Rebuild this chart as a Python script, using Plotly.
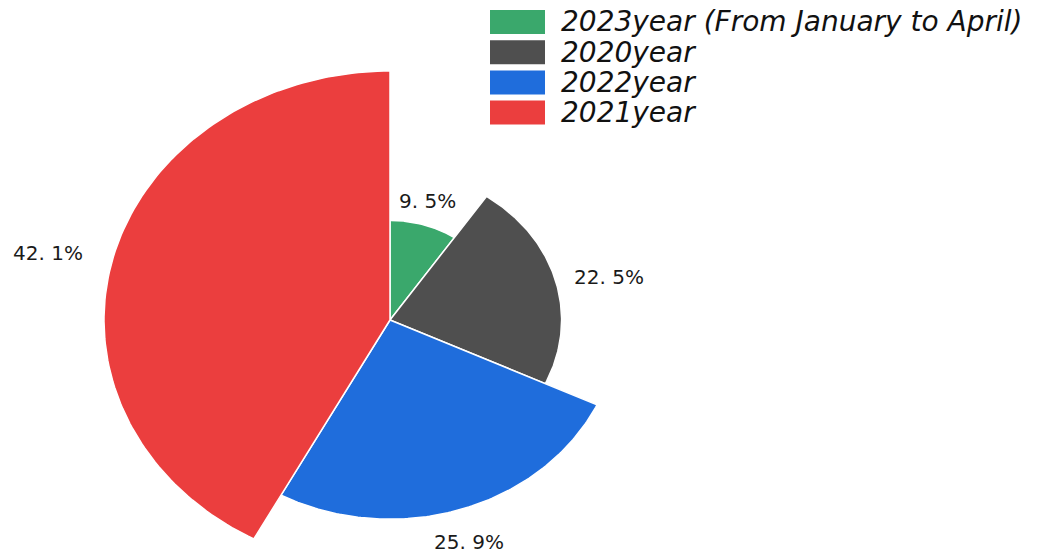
import numpy as np
import plotly.graph_objects as go

# Share of sales by year (percent) and relative rose radius of each slice
categories = ["2023year (From January to April)", "2020year", "2022year", "2021year"]
shares = [9.5, 22.5, 25.9, 42.1]
radius = [0.4, 0.6, 0.8, 1.0]
labels = ["9. 5%", "22. 5%", "25. 9%", "42. 1%"]
colors = ["#3aa86c", "#4f4f4f", "#1f6ddc", "#eb3e3e"]

W, H = 1043, 556
cx, cy = 390, 320          # pie centre in pixels
px_x, px_y = 286, 249      # pixels per unit radius horizontally / vertically

fig = go.Figure()

total = sum(shares)
start = 0.0
mids = []
for name, s, r, c in zip(categories, shares, radius, colors):
    span = 360.0 * s / total
    ang = np.radians(np.linspace(start, start + span, 120))
    xs = np.concatenate([[0], r * np.sin(ang), [0]])
    ys = np.concatenate([[0], r * np.cos(ang), [0]])
    fig.add_trace(go.Scatter(
        x=xs, y=ys, mode="lines", fill="toself", fillcolor=c,
        line=dict(color="white", width=1.5), name=name,
        hoverinfo="name", showlegend=False,
    ))
    mids.append(start + span / 2)
    start += span

# outside value labels, anchored just beyond each slice's rim
for lab, r, m in zip(labels, radius, mids):
    a = np.radians(m)
    sx, cy_ = np.sin(a), np.cos(a)
    rr = r * 1.1
    if sx > 0.45:
        xa, ya = "left", "middle"
    elif sx < -0.45:
        xa, ya = "right", "middle"
    else:
        xa, ya = "center", ("bottom" if cy_ > 0 else "top")
    fig.add_annotation(
        x=rr * sx, y=rr * cy_, text=lab, showarrow=False,
        xanchor=xa, yanchor=ya,
        font=dict(family="DejaVu Sans", size=20, color="#1a1a1a"),
    )

# legend: colour boxes with italic names
box_x0, box_x1 = 490, 545
row0, step, box_h = 10, 30.2, 24
shapes = []
for i, (name, c) in enumerate(zip(categories, colors)):
    y0 = row0 + i * step
    shapes.append(dict(
        type="rect", xref="paper", yref="paper",
        x0=box_x0 / W, x1=box_x1 / W,
        y0=1 - (y0 + box_h) / H, y1=1 - y0 / H,
        fillcolor=c, line=dict(width=0),
    ))
    fig.add_annotation(
        xref="paper", yref="paper", x=559 / W, y=1 - (y0 + box_h / 2) / H,
        text="<i>%s</i>" % name, showarrow=False, xanchor="left", yanchor="middle",
        font=dict(family="DejaVu Sans", size=28, color="#111111"),
    )

fig.update_layout(
    width=W, height=H, margin=dict(l=0, r=0, t=0, b=0),
    paper_bgcolor="white", plot_bgcolor="white",
    shapes=shapes, showlegend=False,
    xaxis=dict(range=[-cx / px_x, (W - cx) / px_x], visible=False, fixedrange=True),
    yaxis=dict(range=[-(H - cy) / px_y, cy / px_y], visible=False, fixedrange=True),
)

fig.write_html("out.html")
